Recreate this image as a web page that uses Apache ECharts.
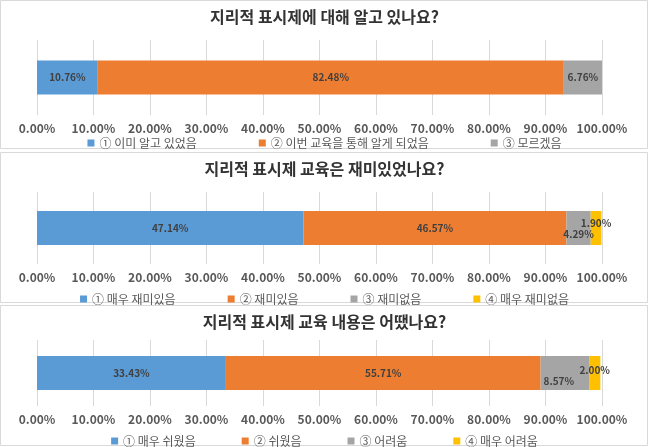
<!DOCTYPE html>
<html>
<head>
<meta charset="utf-8">
<script src="https://cdn.jsdelivr.net/npm/echarts@6/dist/echarts.min.js"></script>
<style>
  html, body { margin: 0; padding: 0; background: #fff; }
  #chart { width: 649px; height: 447px; }
</style>
</head>
<body>
<div id="chart"></div>
<script>
// 설문 결과 (%)
const titles = ['지리적 표시제에 대해 알고 있나요?', '지리적 표시제 교육은 재미있었나요?', '지리적 표시제 교육 내용은 어땠나요?'];
const names1 = ['① 이미 알고 있었음', '② 이번 교육을 통해 알게 되었음', '③ 모르겠음'];
const values1 = [10.76, 82.48, 6.76];
const names2 = ['① 매우 재미있음', '② 재미있음', '③ 재미없음', '④ 매우 재미없음'];
const values2 = [47.14, 46.57, 4.29, 1.90];
const names3 = ['① 매우 쉬웠음', '② 쉬웠음', '③ 어려움', '④ 매우 어려움'];
const values3 = [33.43, 55.71, 8.57, 2.00];
const colors = ['#5B9BD5', '#ED7D31', '#A5A5A5', '#FFC000'];

const font = '"Noto Sans CJK KR", "Noto Sans", sans-serif';
const panels = [
  { names: names1, values: values1, top: 40, height: 75, titleTop: 4, legendTop: 132, gap: 62, offsets: [[0, 0], [0, 0], [0, 0]] },
  { names: names2, values: values2, top: 192, height: 72, titleTop: 156, legendTop: 288, gap: 52, offsets: [[0, 0], [0, 0], [0, 6], [0, -5]] },
  { names: names3, values: values3, top: 340, height: 66, titleTop: 309, legendTop: 430, gap: 46, offsets: [[0, 0], [0, 0], [-6, 8], [0, -3]] }
];

const chart = echarts.init(document.getElementById('chart'));
const option = {
  animation: false,
  backgroundColor: '#fff',
  title: [], legend: [], grid: [], xAxis: [], yAxis: [], series: [],
  graphic: [
    { type: 'rect', shape: { x: 0.5, y: 0.5, width: 647, height: 148 }, style: { fill: 'none', stroke: '#d9d9d9' } },
    { type: 'rect', shape: { x: 0.5, y: 152.5, width: 647, height: 150 }, style: { fill: 'none', stroke: '#d9d9d9' } },
    { type: 'rect', shape: { x: 0.5, y: 305.5, width: 647, height: 140 }, style: { fill: 'none', stroke: '#d9d9d9' } }
  ]
};

panels.forEach((p, i) => {
  option.title.push({
    text: titles[i], left: 'center', top: p.titleTop,
    textStyle: { fontFamily: font, fontSize: 16, fontWeight: 'bold', color: '#333333' }
  });
  option.legend.push({
    data: p.names, left: 'center', top: p.legendTop,
    itemWidth: 7, itemHeight: 7, itemGap: p.gap, icon: 'rect',
    textStyle: { fontFamily: font, fontSize: 12, color: '#595959' }
  });
  option.grid.push({ left: 37, right: 47, top: p.top, height: p.height });
  option.xAxis.push({
    gridIndex: i, type: 'value', min: 0, max: 100, interval: 10,
    axisLine: { show: false }, axisTick: { show: false },
    splitLine: { lineStyle: { color: '#d9d9d9' } },
    axisLabel: { margin: 7, fontFamily: font, fontSize: 12, fontWeight: 'bold', color: '#595959', formatter: v => v.toFixed(2) + '%' }
  });
  option.yAxis.push({ gridIndex: i, type: 'category', data: [''], show: false });
  p.names.forEach((n, j) => {
    option.series.push({
      name: n, type: 'bar', stack: 'total' + i, xAxisIndex: i, yAxisIndex: i,
      barWidth: 34, data: [p.values[j]],
      itemStyle: { color: colors[j] },
      label: {
        show: true, position: 'inside', offset: p.offsets[j],
        fontFamily: font, fontSize: 10, fontWeight: 'bold', color: '#404040',
        formatter: d => d.value.toFixed(2) + '%'
      }
    });
  });
});

chart.setOption(option);
</script>
</body>
</html>
